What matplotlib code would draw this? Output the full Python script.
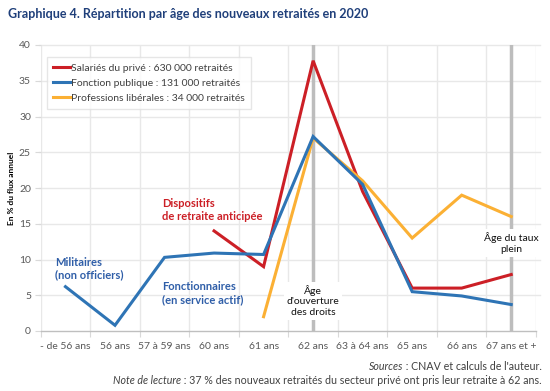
import matplotlib
matplotlib.use("Agg")
import matplotlib.pyplot as plt
import numpy as np

plt.rcParams['font.family'] = ['Lato', 'DejaVu Sans']

categories = ["- de 56 ans", "56 ans", "57 à 59 ans", "60 ans", "61 ans", "62 ans",
              "63 à 64 ans", "65 ans", "66 ans", "67 ans et +"]
prive = [None, None, None, 14.0, 9.0, 37.8, 19.5, 6.0, 6.0, 7.9]
publique = [6.2, 0.8, 10.3, 10.9, 10.7, 27.2, 20.5, 5.5, 4.9, 3.7]
liberales = [None, None, None, None, 2.0, 27.0, 21.0, 13.0, 19.0, 16.0]
labels = ["Salariés du privé : 630 000 retraités",
          "Fonction publique : 131 000 retraités",
          "Professions libérales : 34 000 retraités"]
colors = ["#cc1f26", "#2e74b5", "#fbb034"]
yticks = [0, 5, 10, 15, 20, 25, 30, 35, 40]

W, H = 550, 391
fig = plt.figure(figsize=(W / 100, H / 100), dpi=100)
ax = fig.add_axes([40.7 / W, 1 - 331 / H, (536 - 40.7) / W, (331 - 45) / H])

x = np.arange(len(categories))

def series(vals):
    xs = [i for i, v in enumerate(vals) if v is not None]
    ys = [v for v in vals if v is not None]
    return xs, ys

ax.set_xlim(-0.5, len(categories) - 0.5)
ax.set_ylim(0, 40)

# grid
for yv in yticks[1:]:
    ax.axhline(yv, color="#e8e8e8", lw=1, zorder=0, xmin=-0.004, xmax=1.008, clip_on=False)
for b in np.arange(-0.5, len(categories), 1.0):
    ax.axvline(b, color="#e8e8e8", lw=1, zorder=0)

# reference vertical lines
for xi in [5, 9]:
    ax.axvline(xi, color="#bdbdbd", lw=2.5, zorder=1)

handles = []
for vals, c, lab in zip([prive, publique, liberales], colors, labels):
    xs, ys = series(vals)
    h, = ax.plot(xs, ys, color=c, lw=2.2, label=lab, zorder=3, solid_joinstyle='miter')
    handles.append(h)
handles[1].set_zorder(4)

for s in ["top", "right", "left"]:
    ax.spines[s].set_visible(False)
ax.spines["bottom"].set_color("#bfbfbf")
ax.spines["bottom"].set_linewidth(1)

ax.set_yticks(yticks)
ax.set_yticklabels([str(v) for v in yticks])
ax.tick_params(axis="y", length=4, color="#d9d9d9", labelcolor="#595959", labelsize=7.5, pad=3)
ax.set_xticks(np.arange(-0.5, len(categories), 1.0))
ax.set_xticklabels([])
ax.tick_params(axis="x", length=4, color="#d9d9d9")
ax.set_xticks(x, minor=True)
ax.set_xticklabels(categories, minor=True)
ax.tick_params(axis="x", which="minor", length=0, labelcolor="#595959", labelsize=7.5, pad=8)

fig.text(12 / W, 1 - 188 / H, "En % du flux annuel", fontsize=6, fontweight="bold",
         color="#000000", rotation=90, ha="center", va="center")

leg = ax.legend(handles=handles, loc="upper left", bbox_to_anchor=(0.0127, 0.958),
                borderaxespad=0, frameon=True, fontsize=7.5, handlelength=1.6,
                handletextpad=0.15, labelspacing=0.55, fancybox=False,
                borderpad=0.6, labelcolor="#404040")
leg.get_frame().set_edgecolor("#e0e0e0")
leg.get_frame().set_linewidth(1)
leg.set_zorder(6)

# annotations
ax.text(-0.21, 8.7, "Militaires\n(non officiers)", color="#2f5ea8", fontsize=8,
        fontweight="bold", ha="left", va="center", linespacing=1.15, zorder=5)
ax.text(1.95, 5.3, "Fonctionnaires\n(en service actif)", color="#2f5ea8", fontsize=8,
        fontweight="bold", ha="left", va="center", linespacing=1.15, zorder=5)
ax.text(1.95, 16.9, "Dispositifs\nde retraite anticipée", color="#cc1f26", fontsize=8,
        fontweight="bold", ha="left", va="center", linespacing=1.15, zorder=5)
ax.text(5, 4.2, "Âge\nd'ouverture\ndes droits", color="#111111", fontsize=7.5,
        ha="center", va="center", linespacing=1.25, zorder=5,
        bbox=dict(facecolor="white", edgecolor="none", pad=2))
ax.text(9, 12.3, "Âge du taux\nplein", color="#111111", fontsize=7.5,
        ha="center", va="center", linespacing=1.25, zorder=5,
        bbox=dict(facecolor="white", edgecolor="none", pad=2))

# title
fig.text(8 / W, 1 - 14 / H, "Graphique 4. Répartition par âge des nouveaux retraités en 2020",
         color="#1f3f7a", fontsize=9, fontweight="bold", ha="left", va="center")

# footer with mixed italic
fig.canvas.draw()
renderer = fig.canvas.get_renderer()

def footer(y_px, ital, rest):
    t = fig.text(542 / W, 1 - y_px / H, rest, fontsize=7.7, color="#404040",
                 ha="right", va="center")
    bb = t.get_window_extent(renderer=renderer)
    fig.text(bb.x0 / W, 1 - y_px / H, ital, fontsize=7.7, color="#404040",
             ha="right", va="center", style="italic")

footer(367, "Sources", " : CNAV et calculs de l'auteur.")
footer(381, "Note de lecture", " : 37 % des nouveaux retraités du secteur privé ont pris leur retraite à 62 ans.")

fig.savefig("out.png", dpi=100)
